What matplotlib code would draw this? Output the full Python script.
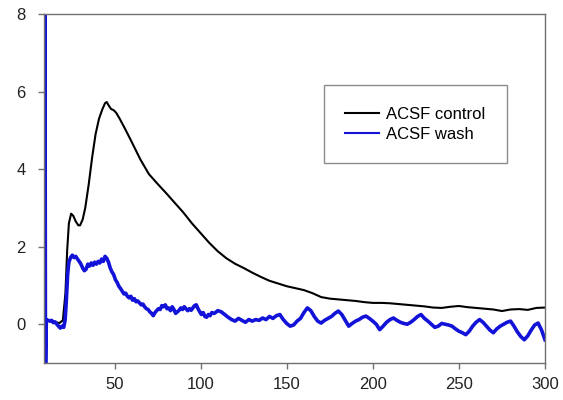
import matplotlib
matplotlib.use("Agg")
import matplotlib.pyplot as plt

# ---------------- data ----------------
control_t = [9.5, 12, 14, 16, 18, 20, 21.5, 22.5, 23.5, 24.8, 26, 27.5, 29, 30, 31.5,
             33, 35, 37, 39, 41, 43, 44.5, 45.5, 46.5, 48, 49.5, 51, 53, 56, 60,
             65, 70, 75, 80, 85, 90, 95, 100, 105, 110, 115, 120, 125, 130, 135,
             140, 145, 150, 155, 160, 165, 170, 175, 180, 185, 190, 195, 200, 205,
             210, 215, 220, 225, 230, 235, 240, 245, 250, 255, 260, 265, 270, 275,
             280, 285, 290, 295, 300]
control_v = [0.05, 0.1, 0.08, 0.05, 0.03, 0.1, 0.8, 1.9, 2.6, 2.85, 2.8, 2.65, 2.55, 2.55, 2.7,
             3.0, 3.6, 4.3, 4.9, 5.3, 5.55, 5.7, 5.73, 5.65, 5.55, 5.52, 5.45, 5.3, 5.05, 4.7,
             4.25, 3.87, 3.62, 3.38, 3.13, 2.88, 2.6, 2.35, 2.1, 1.88, 1.7, 1.56, 1.45, 1.33, 1.22,
             1.12, 1.05, 0.98, 0.93, 0.88, 0.8, 0.7, 0.66, 0.64, 0.62, 0.6, 0.57, 0.55, 0.55,
             0.54, 0.52, 0.5, 0.48, 0.46, 0.43, 0.42, 0.45, 0.47, 0.44, 0.42, 0.4, 0.38, 0.34,
             0.38, 0.39, 0.37, 0.42, 0.43]

wash_t = [9.2, 9.6, 9.9, 10.4, 12.5, 13.5, 14.5, 15.5, 16.5, 17.5, 18.5, 19.5, 20.5,
          21.3, 22, 22.8, 23.5, 24.5, 25.5, 26.5, 27.5, 28.5, 29.5, 30.5, 31.5, 32.5,
          33.5, 34.5, 35.5, 36.5, 37.5, 38.5, 39.5, 40.5, 41.5, 42.5, 43.5, 44.5, 45.5,
          46.5, 47.5, 48.5, 49.5, 50.5, 51.5, 52.5, 53.5, 54.5, 55.5, 56.5, 57.5, 58.5,
          59.5, 60.5, 61.5, 62.5, 63.5, 64.5, 65.5, 66.5, 67.5, 68.5, 69.5, 70.5, 71.5,
          72.5, 73.5, 74.5, 75.5, 76.5, 77.5, 78.5, 79.5, 80.5, 81.5, 82.5, 83.5, 84.5,
          85.5, 86.5, 87.5, 88.5, 89.5, 90.5, 91.5, 92.5, 93.5, 94.5, 95.5, 96.5, 97.5,
          98.5, 99.5, 100.5, 101.5, 102.5, 103.5, 104.5, 105.5, 106.5,
          108, 110, 112, 114, 116, 118, 120, 122, 124, 126, 128, 130, 132, 134, 136, 138,
          140, 142, 144, 146, 148, 150, 152, 154, 156, 158, 160, 162, 164, 166, 168, 170,
          172, 174, 176, 178, 180, 182, 184, 186, 188, 190, 192, 194, 196, 198, 200, 202,
          204, 206, 208, 210, 212, 214, 216, 218, 220, 222, 224, 226, 228, 230, 232, 234,
          236, 238, 240, 242, 244, 246, 248, 250, 252, 254, 256, 258, 260, 262, 264, 266,
          268, 270, 272, 274, 276, 278, 280, 282, 284, 286, 288, 290, 292, 294, 296, 298, 300]
wash_v = [0.0, 9.5, -1.5, 0.12, 0.08, 0.1, 0.04, 0.06, 0.0, -0.05, -0.1, -0.05, -0.08,
          0.1, 0.6, 1.3, 1.6, 1.72, 1.78, 1.72, 1.75, 1.68, 1.62, 1.55, 1.45, 1.38,
          1.42, 1.55, 1.5, 1.58, 1.52, 1.6, 1.55, 1.62, 1.58, 1.68, 1.62, 1.75, 1.7,
          1.6, 1.45, 1.35, 1.28, 1.15, 1.08, 0.98, 0.92, 0.85, 0.78, 0.8, 0.72, 0.68,
          0.72, 0.62, 0.66, 0.58, 0.6, 0.55, 0.5, 0.52, 0.45, 0.4, 0.38, 0.32, 0.28,
          0.22, 0.3, 0.35, 0.4, 0.38, 0.48, 0.45, 0.5, 0.4, 0.42, 0.35, 0.45, 0.38,
          0.28, 0.32, 0.36, 0.42, 0.38, 0.45, 0.4, 0.35, 0.4, 0.36, 0.42, 0.48, 0.5,
          0.4, 0.32, 0.25, 0.3, 0.2, 0.18, 0.25, 0.22, 0.3,
          0.28, 0.35, 0.32, 0.25, 0.18, 0.12, 0.08, 0.15, 0.1, 0.05, 0.12, 0.08, 0.12, 0.1, 0.16, 0.12,
          0.2, 0.15, 0.22, 0.25, 0.12, 0.02, -0.05, -0.02, 0.08, 0.15, 0.3, 0.42, 0.35, 0.2, 0.08, 0.03,
          0.1, 0.15, 0.2, 0.28, 0.34, 0.25, 0.1, -0.05, 0.02, 0.08, 0.12, 0.18, 0.21, 0.15, 0.08, 0.0,
          -0.14, -0.05, 0.05, 0.12, 0.16, 0.1, 0.05, 0.02, 0.0, 0.05, 0.12, 0.2, 0.25, 0.15, 0.08, 0.0,
          -0.08, -0.05, 0.02, 0.0, -0.02, -0.05, -0.12, -0.18, -0.22, -0.27, -0.18, -0.05, 0.05, 0.12, 0.05, -0.05,
          -0.15, -0.22, -0.12, -0.05, 0.0, 0.05, 0.08, -0.05, -0.2, -0.32, -0.4, -0.3, -0.15, -0.02, 0.03, -0.15, -0.4]

series_labels = ["ACSF control", "ACSF wash"]
x_ticks = [50, 100, 150, 200, 250, 300]
y_ticks = [0, 2, 4, 6, 8]

# ---------------- plot ----------------
plt.rcParams['font.family'] = ['Liberation Sans', 'DejaVu Sans']

fig = plt.figure(figsize=(5.63, 4.0), dpi=100)
ax = fig.add_axes([0.078, 0.0925, 0.89, 0.8725])

ax.plot(control_t, control_v, color='black', lw=1.5, label=series_labels[0])
ax.plot(wash_t, wash_v, color='#1212d8', lw=2.6, label=series_labels[1])

ax.set_xlim(9, 300)
ax.set_ylim(-1, 8)
ax.set_xticks(x_ticks)
ax.set_yticks(y_ticks)

for s in ax.spines.values():
    s.set_color('#707070')
    s.set_linewidth(1.0)

ax.tick_params(axis='both', direction='out', length=4, width=1, color='#707070',
               labelsize=12, labelcolor='#222222')
ax.tick_params(axis='x', pad=6)
ax.tick_params(axis='y', pad=9)

leg = ax.legend(loc='upper left', bbox_to_anchor=(0.558, 0.797), borderaxespad=0,
                fontsize=12, frameon=True, fancybox=False, edgecolor='#707070',
                borderpad=1.3, handlelength=2.0, handletextpad=0.45, labelspacing=0.3)
leg.get_frame().set_linewidth(1.0)
for line in leg.get_lines():
    line.set_linewidth(1.5)

fig.savefig("out.png", dpi=100)
